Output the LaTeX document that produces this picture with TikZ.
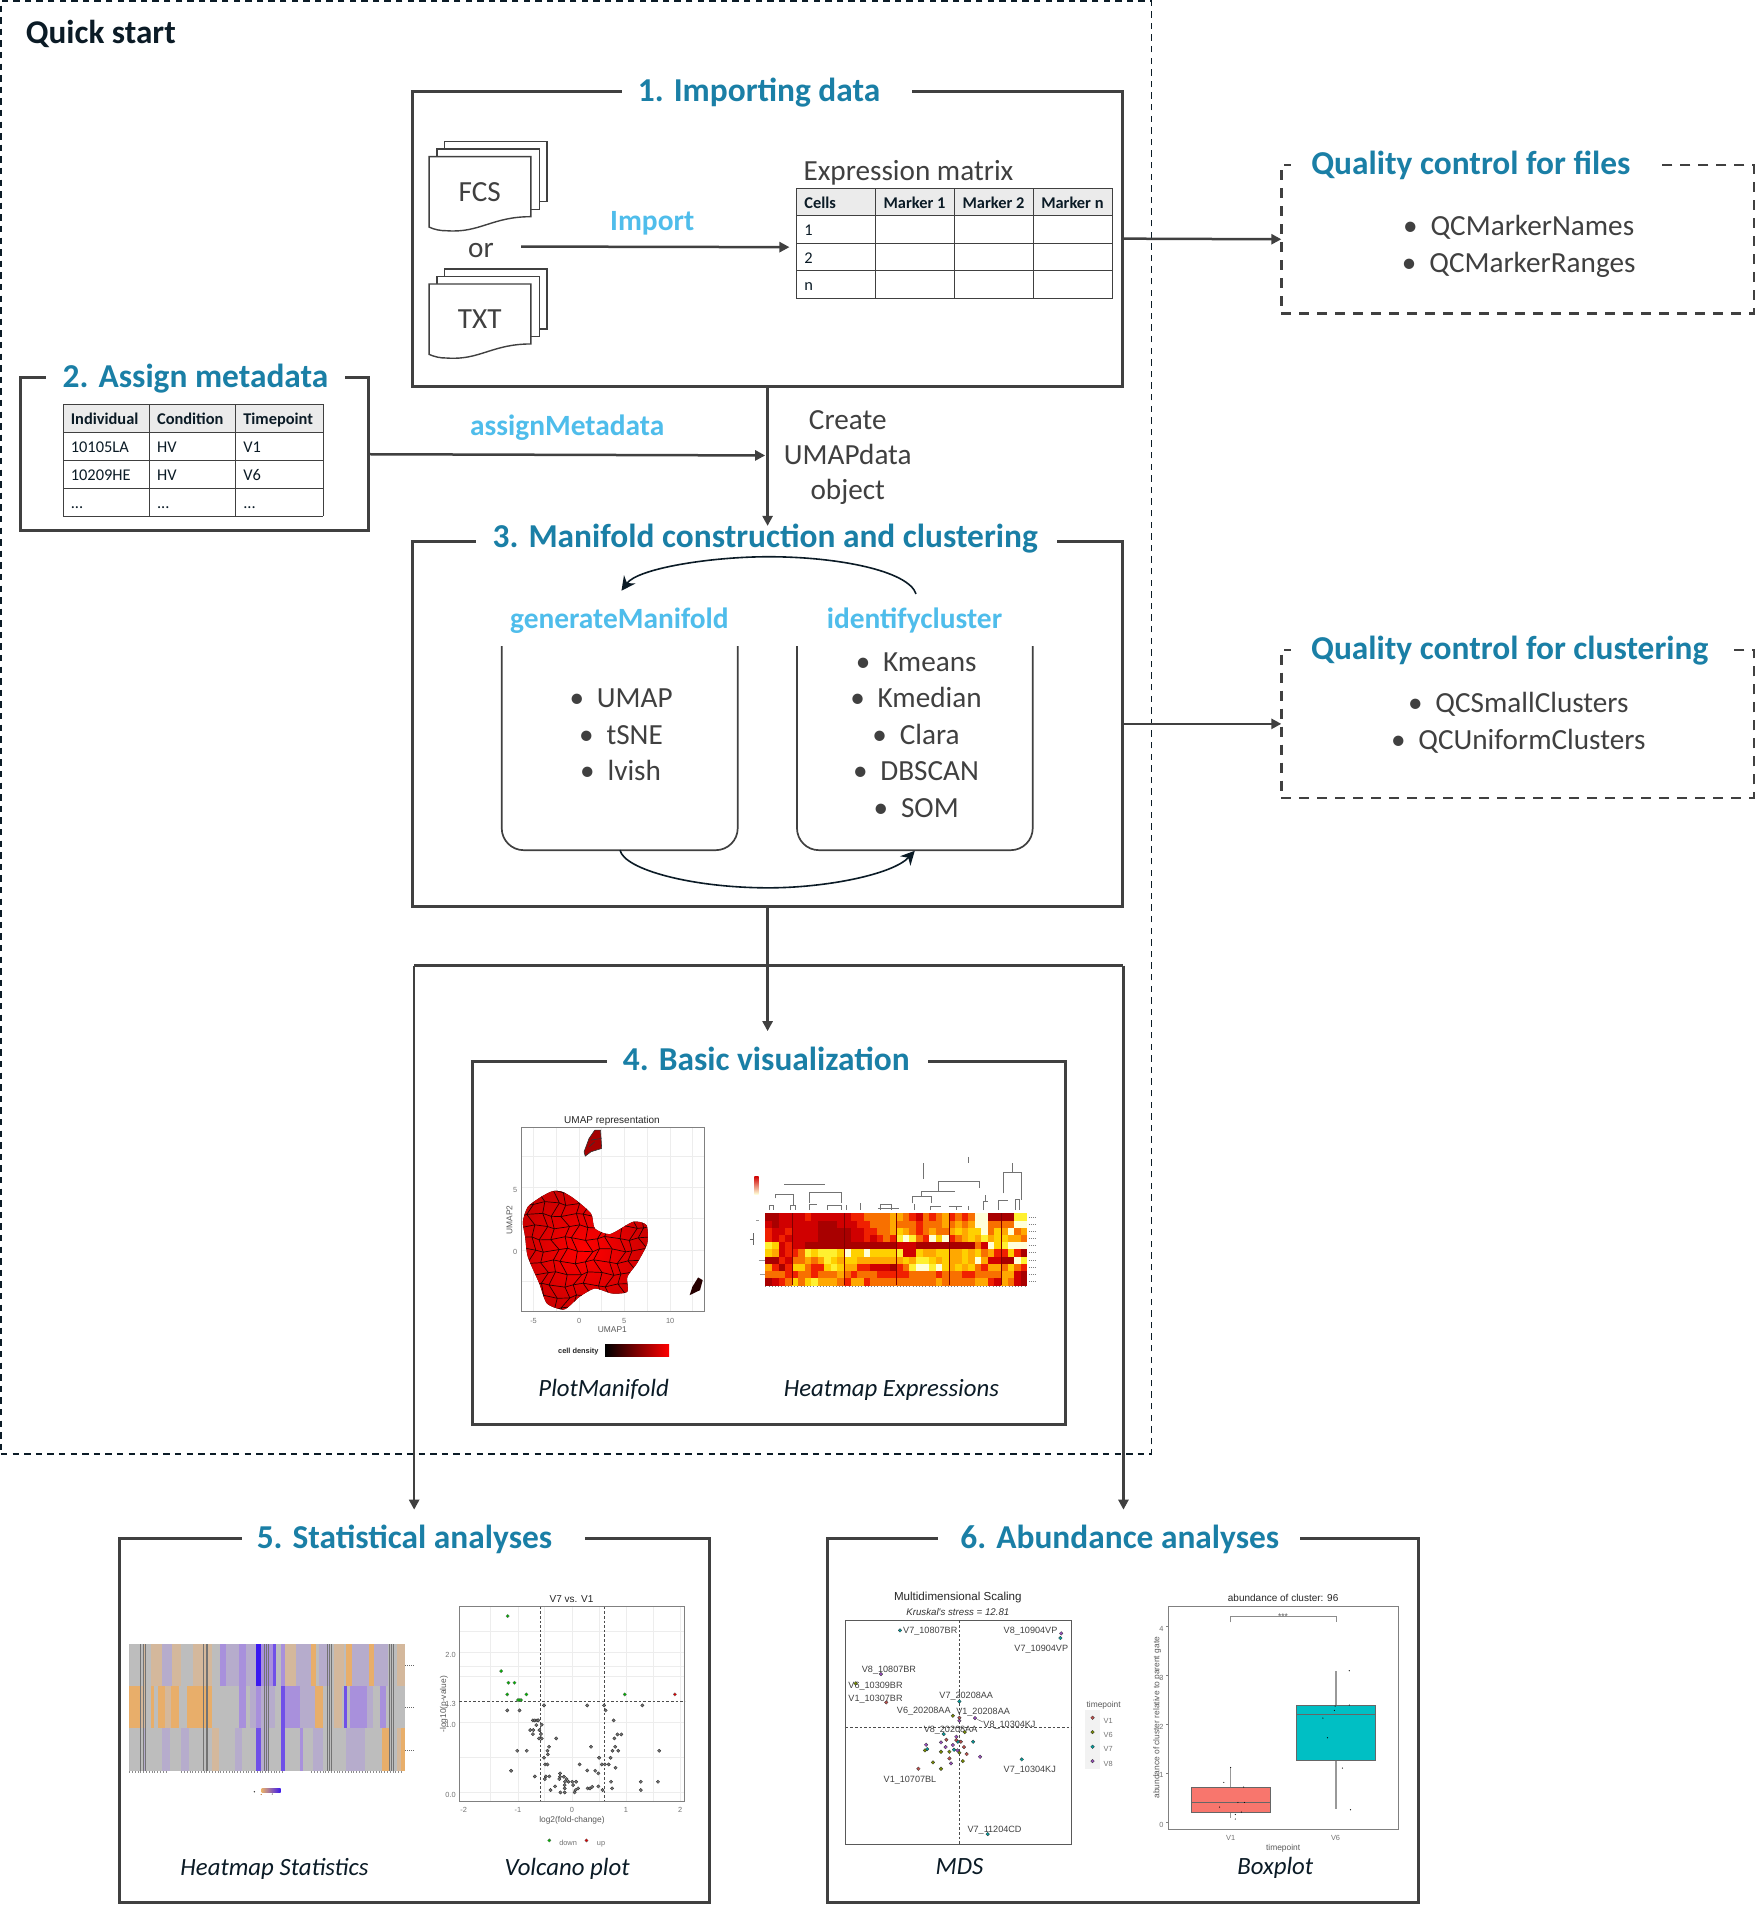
\documentclass[tikz,border=0pt]{standalone}
\usepackage{fontspec}
\setmainfont{Carlito}
\newfontfamily\arl{Liberation Sans}
\usetikzlibrary{arrows.meta,calc}
\definecolor{ttl}{HTML}{1A7FA6}
\definecolor{lbl}{HTML}{4FBDEB}
\definecolor{ln}{HTML}{404040}
\definecolor{ink}{HTML}{0B1B26}
\definecolor{hma}{HTML}{A80000}\definecolor{hmb}{HTML}{D00000}\definecolor{hmc}{HTML}{F02000}\definecolor{hmd}{HTML}{F87000}
\definecolor{hme}{HTML}{FFA800}\definecolor{hmf}{HTML}{FFD000}\definecolor{hmg}{HTML}{FFF030}\definecolor{hmh}{HTML}{FFFFD8}
\definecolor{sgr}{HTML}{BDBDBD}\definecolor{sor}{HTML}{E8AE6A}\definecolor{sol}{HTML}{D4B89C}\definecolor{spu}{HTML}{A890DC}\definecolor{spl}{HTML}{B6ACCC}\definecolor{sbl}{HTML}{3A18F0}\definecolor{sbm}{HTML}{7050E8}
\definecolor{mda}{HTML}{C0504D}\definecolor{mdb}{HTML}{7A8F00}\definecolor{mdc}{HTML}{00A0A0}\definecolor{mdd}{HTML}{9B4FC0}
\definecolor{boxa}{HTML}{F8766D}\definecolor{boxb}{HTML}{00BFC4}
\newcounter{lblc}
\newcommand\tx[3][]{\stepcounter{lblc}\node[txt,#1] (t\arabic{lblc}) at (#2) {#3};}
\tikzset{
 txt/.style={inner sep=0pt,anchor=mid},
 framed/.style={draw=ln,line width=1.5pt,inner sep=0pt,outer sep=0pt},
 dframe/.style={draw=ln,line width=1.2pt,dash pattern=on 5pt off 4pt,inner sep=0pt,outer sep=0pt},
 conn/.style={draw=ln,line width=1.25pt,-{Triangle[length=5pt,width=5pt]}},
 arcc/.style={draw=ink,line width=.8pt,-{Stealth[length=7pt,width=7pt]}},
 ttlf/.style={font=\fontsize{16.7}{19}\selectfont\bfseries,text=ttl,yshift=-2.3pt},
 fnf/.style={font=\fontsize{14.7}{17}\selectfont\bfseries,text=lbl,yshift=-2.3pt},
 body/.style={font=\fontsize{14.6}{17}\selectfont,text=ln,yshift=-2.3pt},
 capt/.style={font=\fontsize{12.4}{15}\selectfont\itshape,text=ink,yshift=-1.9pt},
 hdr/.style={font=\fontsize{8.2}{10}\selectfont\bfseries,text=ink,yshift=-.4pt},
 cel/.style={font=\fontsize{8.2}{10}\selectfont,text=ink,yshift=-.4pt},
 tbl/.style={draw=ln,line width=.55pt},
 pax/.style={font=\arl\fontsize{3.7}{4}\selectfont,text=black!55},
 plb/.style={font=\arl\fontsize{4.2}{5}\selectfont,text=black!65},
 ptt/.style={font=\arl\fontsize{5}{6}\selectfont,text=black!85},
 pfr/.style={draw=black!50,line width=.45pt},
 pgd/.style={draw=black!7,line width=.3pt},
 pda/.style={draw=black!70,line width=.45pt,dash pattern=on 1.3pt off 1pt},
}
\newcommand\boxn[6][framed]{\node[#1,minimum width={(#5-#3)*0.6073pt},minimum height={(#6-#4)*0.6073pt}] (#2) at ({(#3+#5)/2},{(#4+#6)/2}) {};}
\newcommand\ttitle[6]{\fill[white] (#3,#2-8) rectangle (#4,#2+8); \node[txt,ttlf] (#1) at (#5,#2) {#6};}
\newcommand\bul[3]{\tx[anchor=mid west,body]{#1,#2}{\makebox[13.7pt][l]{•}#3}}
\newcommand\docu[1]{\begin{scope}[shift={(0,#1)},draw=ln,line width=.7pt,fill=white]
 \filldraw (366,116.7) rectangle (450.3,166);
 \filldraw (359.7,122.7) rectangle (444,172.4);
 \filldraw (353.3,129) -- (437.1,129) -- (437.1,178.4) .. controls (405,178.4) and (395,192) .. (368,190) .. controls (362,190) and (358,189) .. (353.3,187) -- cycle;
\end{scope}}
\begin{document}
\begin{tikzpicture}[x=0.6073pt,y=-0.6073pt]
\useasboundingbox (0,0) rectangle (1445,1568.5);
\fill[white] (0,0) rectangle (1445,1568.5);
% outer dashed
\boxn[draw=ink,line width=.85pt,dash pattern=on 3.2pt off 2.6pt,inner sep=0pt,outer sep=0pt]{quick}{.8}{.8}{948}{1197}
\node[txt,font=\fontsize{16.6}{19}\selectfont\bfseries,text=ink,yshift=-2.3pt] (quicklabel) at (83,28) {Quick start};
% boxes
\boxn{box1}{340}{75}{924}{318}
\boxn{box2}{17}{311}{303}{437}
\boxn{box3}{340}{446}{924}{746}
\boxn{box4}{389}{874}{877}{1173}
\boxn{box5}{98}{1267}{584}{1566.5}
\boxn{box6}{681}{1267}{1168}{1566.5}
\boxn[dframe]{qc1}{1055}{136}{1444}{258}
\boxn[dframe]{qc2}{1055}{535}{1444}{657}
\ttitle{ta}{76}{512}{751}{625}{1. Importing data}
\ttitle{tb}{311}{38}{284}{161}{2. Assign metadata}
\ttitle{tc}{443}{392}{870}{630}{3. Manifold construction and clustering}
\ttitle{td}{874}{500}{764}{631}{4. Basic visualization}
\ttitle{te}{1267}{199}{482}{333}{5. Statistical analyses}
\ttitle{tf}{1267}{772}{1070}{922}{6. Abundance analyses}
\ttitle{tqa}{136}{1063}{1365}{1211}{Quality control for files}
\ttitle{tqb}{535}{1063}{1422}{1243}{Quality control for clustering}
% connectors
\coordinate (importS) at (429,203);
\coordinate (importE) at (650,203.5);
\coordinate (metaE) at (630,375);
\coordinate (b3top) at (632,433);
\coordinate (b4top) at (632,849);
\coordinate (c5) at (341,1243);
\coordinate (c6) at (925,1243);
\coordinate (outerL) at (341,795);
\coordinate (outerR) at (925,795);
\draw[conn] (importS) -- (importE);
\draw[conn] (box1.east) -- (qc1.west);
\draw[conn] (box3.east) -- (qc2.west);
\draw[conn] (box2.east) -- (metaE);
\draw[conn] (box1.south) -- (b3top);
\draw[conn] (box3.south) -- (b4top);
\draw[draw=ln,line width=1.25pt] (outerL) -- (outerR);
\draw[conn] (outerL) -- (c5);
\draw[conn] (outerR) -- (c6);
\tx[fnf]{537,182}{Import}
\tx[fnf]{467,351}{assignMetadata}
\tx[body]{698,346}{Create}
\tx[body]{698,375}{UMAPdata}
\tx[body]{698,403.5}{object}
% QC texts
\bul{1155}{186}{QCMarkerNames}
\bul{1154}{217}{QCMarkerRanges}
\bul{1159}{579}{QCSmallClusters}
\bul{1145}{609}{QCUniformClusters}
% docs
\docu{0}\docu{104.8}
\tx[body]{395,158}{FCS}
\tx[body]{395,263}{TXT}
\tx[body]{396,204}{or}
% expression table
\tx[body]{748,141}{Expression matrix}
\fill[black!8] (655.8,155) rectangle (916,177.6);
\foreach \x in {655.8,720.8,785.9,850.9,916} \draw[tbl] (\x,155) -- (\x,246);
\foreach \y in {155,177.6,200.4,222.9,246} \draw[tbl] (655.8,\y) -- (916,\y);
\tx[hdr,anchor=mid west]{662,167}{Cells}
\tx[hdr]{753,167}{Marker 1}
\tx[hdr]{818,167}{Marker 2}
\tx[hdr]{883,167}{Marker n}
\tx[cel,anchor=mid west]{662,189.5}{1}
\tx[cel,anchor=mid west]{662,212.5}{2}
\tx[cel,anchor=mid west]{662,235}{n}
% metadata table
\fill[black!8] (52,333) rectangle (266,356);
\foreach \x in {52,123,194,266} \draw[tbl] (\x,333) -- (\x,425);
\foreach \y in {333,356,379,402,425} \draw[tbl] (52,\y) -- (266,\y);
\tx[hdr,anchor=mid west]{58,345}{Individual}
\tx[hdr,anchor=mid west]{129,345}{Condition}
\tx[hdr,anchor=mid west]{200,345}{Timepoint}
\tx[cel,anchor=mid west]{58,368}{10105LA}
\tx[cel,anchor=mid west]{129,368}{HV}
\tx[cel,anchor=mid west]{200,368}{V1}
\tx[cel,anchor=mid west]{58,391}{10209HE}
\tx[cel,anchor=mid west]{129,391}{HV}
\tx[cel,anchor=mid west]{200,391}{V6}
\tx[cel,anchor=mid west]{58,414}{...}
\tx[cel,anchor=mid west]{129,414}{...}
\tx[cel,anchor=mid west]{200,414}{...}
% box 3 inner
\tx[fnf]{510,510}{generateManifold}
\tx[fnf]{753,510}{identifycluster}
\draw[ln,line width=.85pt,rounded corners=11pt] (413.1,532) -- (413.1,700) -- (607.4,700) -- (607.4,532);
\draw[ln,line width=.85pt,rounded corners=11pt] (656.2,532) -- (656.2,700) -- (850.3,700) -- (850.3,532);
\coordinate (gmB) at (510.5,700);
\coordinate (icB) at (753.2,700.5);
\coordinate (icT) at (754.2,489);
\coordinate (gmT) at (511.7,486.4);
\draw[arcc] (icT) .. controls (748,470) and (690,458.4) .. (632.8,458.4) .. controls (585,458.4) and (525,468) .. (gmT);
\draw[arcc] (gmB) .. controls (514,716) and (570,731) .. (632.8,731) .. controls (680,731) and (735,720) .. (icB);
\bul{468.6}{575}{UMAP}
\bul{476.5}{605}{tSNE}
\bul{477.4}{635}{lvish}
\bul{704.3}{545}{Kmeans}
\bul{699.8}{575}{Kmedian}
\bul{718}{605}{Clara}
\bul{702}{635}{DBSCAN}
\bul{719}{665}{SOM}
% ---------- PlotManifold
\begin{scope}[shift={(395.2,889.3)},x=0.19135pt,y=-0.1667pt]
\foreach \x in {140,200,259,318,377,437,497,556} \draw[pgd] (\x,143) -- (\x,693);
\foreach \y in {228,322,416,510,604} \draw[pgd] (108,\y) -- (586,\y);
\draw[pfr] (108,143) rectangle (586,693);
\tx[ptt]{345,116}{UMAP representation}
\begin{scope}
\clip plot[smooth cycle,tension=.4] coordinates {(190,333) (215,335) (245,355) (290,400) (300,445) (340,462) (400,425) (435,435) (437,490) (410,550) (385,590) (385,635) (345,640) (300,625) (260,650) (220,688) (175,670) (155,610) (125,530) (118,470) (112,425) (125,380) (160,350)};
\fill[inner color=red,outer color=red!80!black] (95,320) rectangle (450,700);
\foreach \r in {0,...,10}{\foreach \c in {0,...,12}{
  \pgfmathsetmacro\xa{100+29*\c+7*sin(\r*77+\c*131)+14*mod(\r,2)}
  \pgfmathsetmacro\ya{335+35*\r+6*sin(\r*53+\c*97)}
  \pgfmathsetmacro\xb{100+29*(\c+1)+7*sin(\r*77+(\c+1)*131)+14*mod(\r,2)}
  \pgfmathsetmacro\yb{335+35*\r+6*sin(\r*53+(\c+1)*97)}
  \pgfmathsetmacro\xc{100+29*\c+7*sin((\r+1)*77+\c*131)+14*mod(\r+1,2)}
  \pgfmathsetmacro\yc{335+35*(\r+1)+6*sin((\r+1)*53+\c*97)}
  \draw[black!85!red,line width=.35pt] (\xa,\ya) -- (\xb,\yb) (\xa,\ya) -- (\xc,\yc);
}}
\end{scope}
\filldraw[fill=red!65!black,draw=black!80,line width=.3pt] (300,150) -- (315,150) -- (318,205) -- (290,215) -- (275,228) -- (272,215) -- (285,175) -- cycle;
\draw[black!80,line width=.3pt] (290,180) -- (317,175) (285,200) -- (300,185);
\fill[black!85!red] (570,592) -- (582,600) -- (575,630) -- (548,645) -- (555,620) -- cycle;
\foreach \x/\l in {140/-5,259/0,377/5,497/10} \tx[pax]{\x,715}{\l};
\tx[pax]{92,322}{5}
\tx[pax]{92,510}{0}
\tx[plb]{346,744}{UMAP1}
\tx[plb,rotate=90]{72,420}{UMAP2}
\tx[font=\arl\bfseries\fontsize{3.7}{4}\selectfont,text=black!85]{257,806}{cell density}
\shade[left color=black,right color=red] (327,793) rectangle (494,830);
% ---------- heatmap expression
\foreach \row [count=\ri from 0] in {
{0,0,1,1,1,1,2,1,1,1,1,1,1,2,2,3,3,3,3,4,4,3,2,1,3,2,3,4,2,3,2,3,7,7,0,0,0,0,6,6},
{1,0,1,1,1,1,1,1,0,0,0,1,1,1,2,2,3,3,3,4,3,3,3,2,3,3,3,4,3,4,3,4,7,7,3,3,3,3,7,7},
{2,1,1,2,1,1,1,1,0,0,0,0,0,1,1,2,2,3,3,4,5,4,3,2,3,4,3,3,4,5,4,5,5,7,3,5,4,7,3,4},
{2,1,2,1,1,1,1,1,0,0,0,0,0,1,1,2,1,2,3,2,6,7,6,3,2,7,5,7,2,3,4,5,4,6,4,5,5,4,4,3},
{6,5,1,2,1,1,0,0,0,0,0,0,0,0,0,0,0,0,0,0,1,1,1,0,0,0,0,0,0,0,0,0,3,1,7,5,6,7,7,7},
{5,4,1,2,2,3,6,5,6,6,6,5,7,5,5,7,5,5,5,5,6,1,1,5,4,4,5,5,4,4,5,4,5,3,4,2,2,5,2,0},
{0,0,2,1,3,3,4,3,4,6,5,4,5,5,4,4,4,4,4,4,4,5,4,6,6,5,4,5,4,4,5,4,7,4,1,1,0,0,7,6},
{4,2,0,2,5,5,3,2,2,5,6,5,4,4,2,2,1,1,1,0,2,3,6,7,7,6,7,5,4,5,4,5,3,2,4,4,3,5,3,2},
{3,3,3,2,2,3,3,2,3,3,3,4,3,2,3,3,3,2,2,2,2,2,3,3,3,3,2,3,3,3,2,2,3,3,3,3,4,4,1,0},
{0,1,2,3,5,3,5,6,4,4,4,3,2,4,4,2,3,3,3,3,3,3,3,3,3,3,4,3,3,3,3,3,4,4,2,1,4,3,1,0}}{
 \foreach \v [count=\ci from 0] in \row {
  \ifcase\v\relax\def\cc{hma}\or\def\cc{hmb}\or\def\cc{hmc}\or\def\cc{hmd}\or\def\cc{hme}\or\def\cc{hmf}\or\def\cc{hmg}\or\def\cc{hmh}\fi
  \fill[\cc] ({746+17.1*\ci},{400+21.6*\ri}) rectangle ({746+17.1*(\ci+1)+.6},{400+21.6*(\ri+1)+.6});
 }
}
\foreach \x in {815,951,1088,1225,1361} \draw[black!50!red,line width=.18pt] (\x,400) -- (\x,616);
\draw[black!55,line width=.4pt] (795,312)--(902,312) (772,355)--(772,344)--(818,344)--(818,375) (860,370)--(860,336)--(945,336)--(945,370) (1130,370)--(1130,350)--(1180,350)--(1180,370) (1153,350)--(1153,334)--(1240,334) (1197,334)--(1197,305)--(1305,305)--(1305,325) (1160,250)--(1160,297) (1275,230)--(1275,248) (1368,340)--(1368,276)--(1414,276)--(1414,360) (1391,250)--(1391,276) (1315,390)--(1315,365)--(1327,365) (1322,345)--(1322,365) (755,390)--(755,376)--(768,376)--(768,390) (810,390)--(810,376)--(825,376)--(825,390) (862,390)--(862,372)--(880,372) (907,390)--(907,376)--(945,376)--(945,390) (958,390)--(958,376) (995,370)--(995,390) (1046,390)--(1046,374)--(1075,374)--(1075,390) (1040,385)--(1095,385) (1135,390)--(1135,372) (1178,390)--(1178,380)--(1205,380) (1225,380)--(1260,380) (1245,380)--(1245,390) (1275,378)--(1275,390) (1355,390)--(1355,362)--(1380,362) (1400,390)--(1400,358)--(1410,358)--(1410,390);
\shade[top color=hmb,middle color=hme,bottom color=hmh] (717,288) rectangle (728,342);
\draw[black!60,line width=.3pt] (715,460) -- (715,495) (705,478) -- (715,478);
\draw[black!40,line width=.3pt] (728,540) -- (745,540) (732,582) -- (745,582) (722,422) -- (730,422);
\foreach \y in {411,432,455,475,497,518,540,561,582,604} \draw[black!50,line width=.35pt,dash pattern=on .5pt off .5pt] (1434,\y) -- (1452,\y);
\draw[black!50,line width=.6pt,dash pattern=on .4pt off 1.2pt] (746,620) -- (1430,620);
\end{scope}
\tx[capt]{497,1143}{PlotManifold}
\tx[capt]{734,1143}{Heatmap Expressions}
% ---------- statistics heatmap + volcano
\begin{scope}[shift={(98.8,1292.7)},x=0.19135pt,y=-0.1667pt]
\fill[sgr] (24,222) rectangle (745,602);
\foreach \a/\b/\c in {60/68/sol,80/110/sol,110/135/spl,135/160/sol,190/240/sol,262/278/spu,278/310/spl,310/328/spu,328/355/spl,355/368/sbl,368/405/spu,400/407/sbm,420/430/spu,430/460/sol,460/500/spl,500/512/sor,520/545/spl,560/585/sol,590/607/sor,607/650/spl,650/665/sor,665/700/spl,725/745/sol}
  \fill[\c] (\a,222) rectangle (\b,348);
\foreach \a/\b/\c in {24/55/sor,55/68/sol,80/90/sor,100/118/sor,118/132/sol,132/155/sor,175/240/sor,310/328/spu,340/355/spl,355/368/spu,368/405/spl,420/430/sbm,430/470/spu,470/500/spl,500/510/spl,510/530/sor,560/580/sol,585/593/sbm,600/645/spu,645/660/spl,680/695/spu}
  \fill[\c] (\a,348) rectangle (\b,474);
\foreach \a/\b/\c in {60/68/spl,110/130/spl,160/180/spl,240/260/sol,300/320/spl,355/368/sbm,368/390/spl,420/430/sbm,470/478/spu,505/530/spl,590/640/spl,685/705/sor,725/735/sol,735/745/sor}
  \fill[\c] (\a,474) rectangle (\b,602);
\foreach \x in {54,61,66,217,224,229,376,383,388,541,546,551,703,709,714}
  \draw[black!55,line width=.18pt] (\x,222) -- (\x,602);
\draw[black!45,line width=.7pt,dash pattern=on .5pt off .9pt] (24,606) -- (120,606) (160,606) -- (430,606) (500,606) -- (740,606);
\shade[left color=sor,right color=sbl] (370,656) rectangle (420,666);
\fill[black!80] (351,665) circle (.4pt) (398,672) circle (.3pt);
\fill[orange!70!black] (369,673) circle (.3pt);
\foreach \y in {285,412,540} \draw[black!60,line width=.4pt,dash pattern=on .5pt off .5pt] (746,\y) -- (772,\y);
% volcano
\foreach \x in {968,1040,1110,1182,1252,1322,1393,1464} \draw[pgd] (\x,110) -- (\x,693);
\foreach \y in {183,246,290,320,457,563,668} \draw[pgd] (887,\y) -- (1476,\y);
\draw[pfr] (887,110) rectangle (1476,693);
\draw[pda] (1099,110) -- (1099,693) (1265,110) -- (1265,693) (887,393) -- (1476,393);
\tx[ptt]{1180,82}{V7 vs. V1}
\foreach \x/\l in {898/-2,1040/-1,1181/0,1322/1,1464/2} \tx[pax]{\x,714}{\l};
\foreach \y/\l in {247/2.0,394/1.3,457/1.0,668/0.0} \tx[pax]{864,\y}{\l};
\tx[plb]{1181,743}{log2(fold-change)}
\tx[plb,rotate=90]{840,403}{-log10(p-value)}
\foreach \x/\y in {1012/421,1044/421,1108/406,1221/406,1265/406,1269/421,1365/406,1290/451,1079/451,1084/451,1090/451,1093/451,1088/465,1102/464,1072/480,1080/480,1096/480,1079/492,1100/492,1095/505,1102/505,1140/505,1300/493,1310/493,1292/505,1231/530,1294/530,1121/530,1117/542,1038/542,1063/542,1287/542,1302/542,1409/542,1118/553,1108/563,1252/563,1282/563,1111/583,1117/583,1201/583,1259/583,1267/583,1277/583,1295/593,1022/602,1221/601,1242/602,1250/610,1084/619,1113/619,1122/619,1110/627,1150/610,1150/620,1148/627,1160/620,1167/627,1163/635,1172/635,1182/635,1192/635,1283/635,1361/635,1406/635,1137/649,1162/645,1162/655,1184/645,1197/655,1190/660,1222/655,1228/655,1234/650,1250/649,1286/655,1125/660,1151/667,1162/667,1188/667,1261/660,1361/660}
  \filldraw[fill=black!55,draw=black!85,line width=.15pt] (\x,\y) circle (.85pt);
\foreach \x/\y in {1013/138,996/303,1015/338,1031/338,1012/373,1062/373,1040/390,1048/390,1043/390,1319/373,1122/811}
  \filldraw[fill=green!70!black,draw=black!60,line width=.12pt] (\x,\y) circle (.85pt);
\foreach \x/\y in {1450/373,1219/811}
  \filldraw[fill=red!85!black,draw=black!60,line width=.12pt] (\x,\y) circle (.85pt);
\tx[pax]{1171,812}{down}
\tx[pax]{1257,812}{up}
\end{scope}
\tx[capt]{226,1537}{Heatmap Statistics}
\tx[capt]{467,1537}{Volcano plot}
% ---------- MDS + boxplot
\begin{scope}[shift={(683.4,1292.7)},x=0.19135pt,y=-0.1667pt]
\draw[pfr,draw=black!65] (41,151) rectangle (631,823);
\draw[pda] (338,151) -- (338,823) (41,472) -- (631,472);
\tx[font=\arl\fontsize{5.8}{7}\selectfont,text=black!85]{334,76}{Multidimensional Scaling}
\tx[font=\arl\itshape\fontsize{4.85}{6}\selectfont,text=black!80]{334,122}{Kruskal's stress = 12.81}
\foreach \x/\y/\l in {262/175/V7\_10807BR,524/175/V8\_10904VP,552/229/V7\_10904VP,154/292/V8\_10807BR,119/340/V6\_10309BR,119/379/V1\_10307BR,356/372/V7\_20208AA,245/417/V6\_20208AA,400/418/V1\_20208AA,469/458/V8\_10304KJ,315/472/V8\_20208AA,522/593/V7\_10304KJ,209/623/V1\_10707BL,430/773/V7\_11204CD}
  \tx[font=\arl\fontsize{4.55}{5}\selectfont,text=black!75]{\x,\y}{\l};
\draw[black!60,line width=.25pt] (385,448) -- (400,456);
\foreach \x/\y in {604/190,133/312,379/444,338/452,251/524,290/517,302/531,321/525,333/541,392/560,316/580,330/500}
  \filldraw[fill=mdd,draw=black!80,line width=.15pt] (\x,\y) circle (.9pt);
\foreach \x/\y in {183/181,602/204,338/394,297/492,374/515,334/515,254/537,324/539,501/568,412/792}
  \filldraw[fill=mdc,draw=black!80,line width=.15pt] (\x,\y) circle (.9pt);
\foreach \x/\y in {147/397,338/443,304/509,342/515,350/531,357/552,312/565,231/596,330/510}
  \filldraw[fill=mda,draw=black!80,line width=.15pt] (\x,\y) circle (.9pt);
\fill[black!5] (667,420) rectangle (705,596);
\foreach \y/\c in {443/mda,486/mdb,530/mdc,573/mdd} \filldraw[fill=\c,draw=black!80,line width=.15pt] (686,\y) circle (.9pt);
\foreach \x/\y in {67/340,321/437,352/486,248/541,290/545,312/545,338/548,269/577,347/573,290/596}
  \filldraw[fill=mdb,draw=black!80,line width=.15pt] (\x,\y) circle (.9pt);
\tx[plb]{715,397}{timepoint}
\foreach \y/\l in {445/V1,488/V6,531/V7,575/V8} \tx[pax]{727,\y}{\l};
% boxplot
\draw[pfr] (884,108) rectangle (1486,777);
\tx[ptt]{1184,80}{abundance of cluster: 96}
\draw[black!45,line width=.4pt] (1047,157) -- (1047,138) -- (1322,138) -- (1322,157);
\tx[plb,yshift=-1pt]{1184,128}{***}
\foreach \y/\l in {170/4,316/3,463/2,609/1,757/0} {\tx[pax]{866,\y}{\l} \draw[black!50,line width=.3pt] (878,\y) -- (884,\y);}
\tx[plb,rotate=90]{848,443}{abundance of cluster relative to parent gate}
\tx[pax]{1047,798}{V1}
\tx[pax]{1321,798}{V6}
\tx[plb]{1184,827}{timepoint}
\draw[black!40,line width=.6pt] (1047,592) -- (1047,745) (1322,303) -- (1322,718);
\filldraw[fill=boxa,draw=black!60,line width=.45pt] (944,652) rectangle (1151,727);
\filldraw[fill=boxb,draw=black!60,line width=.45pt] (1219,407) rectangle (1426,570);
\draw[black!60,line width=.6pt] (944,698) -- (1151,698) (1219,433) -- (1426,433);
\foreach \x/\y in {1029/637,1081/651,1066/697,1083/697,1018/711,1075/726,1059/733,1059/747,1047/592,1357/302,1320/408,1357/405,1318/421,1288/444,1300/503,1339/594,1360/719}
  \fill[black] (\x,\y) circle (.3pt);
\end{scope}
\tx[capt]{790,1536}{MDS}
\tx[capt]{1050,1536}{Boxplot}
\end{tikzpicture}
\end{document}
